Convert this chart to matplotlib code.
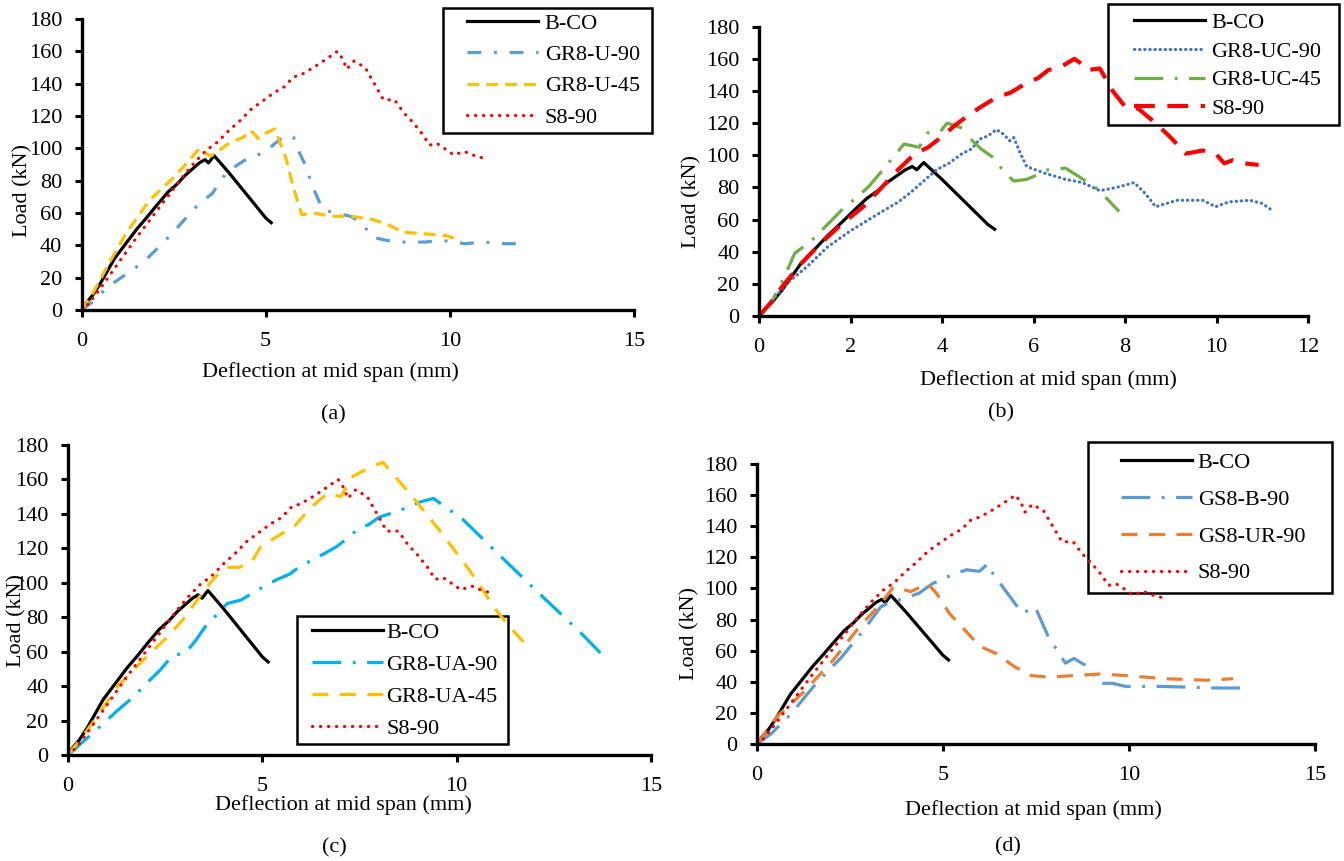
import numpy as np
import matplotlib
matplotlib.use('Agg')
import matplotlib.pyplot as plt
from matplotlib.patches import Rectangle

plt.rcParams['font.family'] = ['Liberation Serif', 'DejaVu Serif']

# ---- data (deflection mm, load kN) ----
bco_x = [0, 0.15, 0.3, 0.5, 0.7, 0.9, 1.2, 1.5, 1.8, 2.05, 2.35, 2.6, 2.8, 3.0, 3.2, 3.35, 3.45, 3.6, 4.0, 4.5, 5.0, 5.15]
bco_y = [0, 5, 9, 16, 24, 32, 41, 50, 58, 65, 73, 78, 83, 87, 91, 93, 91, 95.5, 85, 71, 57, 54]

s890_x = [0, 0.2, 0.5, 1.0, 1.5, 1.9, 2.4, 2.8, 3.1, 3.4, 3.7, 4.0, 4.3, 4.6, 4.9, 5.2, 5.5, 5.75, 6.0, 6.3, 6.5, 6.7, 6.95, 7.1, 7.2, 7.4, 7.7, 7.95, 8.2, 8.5, 8.75, 9.0, 9.25, 9.45, 9.65, 9.85, 10.1, 10.4, 10.6, 10.9]
s890_y = [0, 4, 13, 29, 45, 57, 72, 84, 92, 99, 104, 111, 117, 124, 129, 134, 138, 144, 146, 150, 153, 156, 160, 155, 149, 154, 150, 140, 130, 130, 122, 116, 109, 102, 103, 100, 96, 98, 96, 94]

# (a)
gr8u90_x = [0, 0.3, 0.7, 1.2, 1.7, 2.1, 2.45, 2.8, 3.2, 3.55, 3.9, 4.25, 4.6, 4.95, 5.25, 5.55, 5.75, 5.9, 6.05, 6.3, 6.55, 6.9, 7.3, 7.6, 7.9, 8.3, 8.75, 9.3, 9.8, 10.4, 10.9, 11.5, 12.0]
gr8u90_y = [0, 5, 14, 22, 30, 39, 47, 56, 66, 72, 84, 90, 95, 97, 103, 108, 107, 98, 91, 75, 62, 60, 58, 54, 45, 43, 42, 42, 43, 41, 42, 41, 41]

gr8u45_x = [0, 0.3, 0.7, 1.2, 1.85, 2.55, 2.9, 3.2, 3.5, 3.75, 4.0, 4.4, 4.6, 4.8, 5.05, 5.25, 5.38, 5.55, 5.75, 5.98, 6.3, 6.8, 7.3, 7.9, 8.3, 8.75, 9.4, 9.9, 10.3]
gr8u45_y = [0, 10, 27, 47, 68, 83, 92, 100, 95, 99, 103, 107, 111, 106, 110, 112, 104, 94, 76, 59, 60, 58, 58, 56, 53, 48, 47, 46, 43]

# (b)
gr8uc90_x = [0, 0.3, 0.6, 1.06, 1.5, 2.0, 2.4, 2.75, 3.05, 3.32, 3.6, 3.88, 4.15, 4.44, 4.65, 4.82, 5.0, 5.19, 5.35, 5.48, 5.57, 5.7, 5.85, 6.23, 6.7, 7.07, 7.45, 7.82, 8.2, 8.45, 8.67, 9.14, 9.7, 9.98, 10.27, 10.73, 11.0, 11.25]
gr8uc90_y = [0, 10, 20, 31, 43, 53, 60, 66, 71, 77, 84, 91, 95, 101, 104, 110, 112, 116, 113, 109, 111, 102, 93, 89, 85, 83, 78, 80, 83, 76, 68, 72, 72, 68, 71, 72, 70, 65]

gr8uc45_x = [0, 0.3, 0.55, 0.78, 1.15, 1.5, 1.81, 2.1, 2.38, 2.65, 2.94, 3.17, 3.5, 3.69, 3.97, 4.11, 4.44, np.nan, 4.63, 4.85, 5.1, 5.38, 5.57, 5.85, 6.1, 6.32, 6.7, 6.98, 7.35, 7.64, 7.87]
gr8uc45_y = [0, 10, 24, 39, 47, 57, 66, 73, 80, 89, 99, 107, 105, 114, 115, 120, 117, np.nan, 110, 104, 99, 89, 84, 85, 88, 91, 92, 87, 80, 72, 65]

s890b_x = [0, 0.25, 0.5, 0.9, 1.34, 1.8, 2.28, 2.65, 3.04, 3.41, 3.7, 3.97, 4.3, 4.63, 4.9, 5.19, 5.5, 5.85, 6.1, 6.32, 6.6, 6.89, 7.05, 7.17, 7.45, 7.73, 8.01, 8.29, 8.67, 9.0, 9.33, 9.7, 9.98, 10.17, 10.36, 10.6, 10.92]
s890b_y = [0, 8, 18, 32, 45, 57, 68, 79, 91, 101, 105, 111, 119, 126, 131, 136, 139, 145, 148, 153, 155, 160, 157, 153, 154, 140, 130, 129, 120, 111, 101, 103, 101, 95, 97, 95, 94]

# (c)
gr8ua90_x = [0, 0.4, 0.85, 1.28, 1.7, 2.04, 2.4, 2.69, 3.02, 3.3, 3.55, 3.85, 4.1, 4.45, 4.75, 5.05, 5.39, 5.7, 5.94, 6.26, 6.6, 6.91, 7.2, 7.45, 7.75, 8.0, 8.53, 9.07, 9.4, 10.15, 11.24, 12.3, 13.19, 13.84]
gr8ua90_y = [0, 8, 17, 26, 34, 42, 50, 58, 59, 67, 75, 82, 88, 90, 94, 98, 102, 105, 109, 113, 117, 121, 126, 131, 134, 138, 142, 147, 149, 137, 113, 90, 71, 56]

gr8ua45_x = [0, 0.35, 0.74, 1.28, 1.93, 2.58, 3.01, 3.45, 3.77, 4.1, 4.42, 4.75, 4.96, 5.39, 5.83, 6.26, 6.69, 7.02, 7.34, 7.78, 8.1, 8.86, 9.61, 10.37, 11.02, 11.34, 11.83]
gr8ua45_y = [0, 10, 22, 40, 55, 69, 80, 94, 103, 109, 109, 113, 121, 127, 133, 144, 152, 150, 162, 167, 170, 150, 129, 106, 84, 75, 63]

# (d)
gs8b90_x = [0, 0.4, 0.9, 1.59, 2.28, 2.86, 3.32, 3.55, 3.9, 4.36, 4.71, 5.17, 5.63, 5.98, 6.21, 6.33, 6.79, 7.13, 7.48, 7.83, 8.29, 8.52, 8.87, 9.22, 9.56, 9.91, 10.9, 12.33, 13.03]
gs8b90_y = [0, 7, 19, 39, 56, 73, 88, 91, 93, 97, 103, 108, 112, 111, 116, 110, 95, 84, 88, 69, 52, 55, 50, 39, 39, 37, 37, 36, 36]

gs8ur90_x = [0, 0.55, 1.24, 2.05, 2.74, 3.32, 3.67, 4.13, 4.59, 4.82, 5.17, 5.52, 5.98, 6.44, 6.9, 7.37, 7.83, 8.52, 9.22, 9.91, 10.94, 12.1, 12.8]
gs8ur90_y = [0, 18, 33, 54, 75, 90, 101, 98, 103, 97, 84, 75, 63, 58, 50, 44, 43, 44, 45, 44, 42, 41, 42]

yticks = list(range(0, 181, 20))
xticks_15 = [0, 5, 10, 15]
xticks_12 = list(range(0, 13, 2))

BLACK = '#000000'
RED = '#FF0000'
GOLD = '#FFC000'
LBLUE = '#5B9BD5'
DBLUE = '#4472C4'
GREEN = '#70AD47'
CYAN = '#00B0F0'
ORANGE = '#ED7D31'

DASHDOT_S = (0, (4.3, 4.0, 0.9, 4.0))
DASHDOT_L = (0, (9.0, 3.6, 0.9, 3.6))
DASHED_S = (0, (3.7, 2.2))
DASHED_L = (0, (5.0, 3.6))
DOTTED = (0, (0.1, 2.4))
FINE_DOT = (0, (0.1, 1.5))

W, H = 1344, 861
FS = 16
LW = 2.3


def px_axes(fig, left, right, bottom, top):
    return fig.add_axes([left / W, 1 - bottom / H, (right - left) / W, (bottom - top) / H])


def style(ax, xmax, xticks, xlab, ylab):
    ax.set_xlim(0, xmax)
    ax.set_ylim(0, 180)
    ax.set_xticks(xticks)
    ax.set_yticks(yticks)
    for s in ['top', 'right']:
        ax.spines[s].set_visible(False)
    for s in ['left', 'bottom']:
        ax.spines[s].set_linewidth(2.4)
    ax.tick_params(direction='out', length=5, width=2.2, labelsize=FS)
    ax.tick_params(axis='x', pad=11)
    ax.tick_params(axis='y', pad=9)
    ax.set_xlabel('Deflection at mid span (mm)', fontsize=FS)
    ax.set_ylabel('Load (kN)', fontsize=FS)
    ax.xaxis.set_label_coords(*xlab)
    ax.xaxis.label.set_va('center')
    ax.yaxis.set_label_coords(*ylab)
    ax.yaxis.label.set_va('center')


def legend(ax, box, hx, cy, ls, tpad=0.27):
    # box = (left, top, right, bottom) in pixels; hx = handle start, cy = centre of the rows
    x0, y0, x1, y1 = box
    ax.add_patch(Rectangle((x0 / W, 1 - y1 / H), (x1 - x0) / W, (y1 - y0) / H, transform=fig.transFigure,
                           facecolor='white', edgecolor='black', lw=1.8, zorder=1, clip_on=False))
    leg = ax.legend(loc='center left', bbox_to_anchor=(hx / W, 1 - cy / H), bbox_transform=fig.transFigure,
                    fontsize=FS, frameon=False, handlelength=3.2, handletextpad=tpad,
                    labelspacing=ls, borderpad=0, borderaxespad=0)
    return leg


fig = plt.figure(figsize=(W / 100, H / 100), dpi=100)

# (a)
ax = px_axes(fig, 81.5, 634, 310, 19)
ax.plot(bco_x, bco_y, color=BLACK, lw=LW, label='B-CO')
ax.plot(gr8u90_x, gr8u90_y, color=LBLUE, lw=LW, ls=DASHDOT_S, label='GR8-U-90')
ax.plot(gr8u45_x, gr8u45_y, color=GOLD, lw=LW, ls=DASHED_S, label='GR8-U-45')
ax.plot(s890_x, s890_y, color=RED, lw=LW, ls=DOTTED, dash_capstyle='round', label='S8-90')
style(ax, 15, xticks_15, (0.45, -0.213), (-0.106, 0.412))
legend(ax, (443, 8, 652, 133), 467, 70.5, 0.48, 0.3)

# (b)
ax = px_axes(fig, 759, 1308, 316, 26.7)
ax.plot(bco_x, bco_y, color=BLACK, lw=LW, label='B-CO')
ax.plot(gr8uc90_x, gr8uc90_y, color=DBLUE, lw=LW, ls=FINE_DOT, dash_capstyle='round', label='GR8-UC-90')
ax.plot(gr8uc45_x, gr8uc45_y, color=GREEN, lw=LW, ls=DASHDOT_L, label='GR8-UC-45')
ax.plot(s890b_x, s890b_y, color=RED, lw=3.0, ls=(0, (5, 3)), label='S8-90')
style(ax, 12, xticks_12, (0.528, -0.221), (-0.122, 0.395))
legend(ax, (1108, 4, 1339, 125), 1134, 65.8, 0.37)

# (c)
ax = px_axes(fig, 68, 651, 755, 445)
ax.plot(bco_x, bco_y, color=BLACK, lw=LW, label='B-CO')
ax.plot(gr8ua90_x, gr8ua90_y, color=CYAN, lw=LW, ls=DASHDOT_L, label='GR8-UA-90')
ax.plot(gr8ua45_x, gr8ua45_y, color=GOLD, lw=LW, ls=DASHED_L, label='GR8-UA-45')
ax.plot(s890_x, s890_y, color=RED, lw=LW, ls=DOTTED, dash_capstyle='round', label='S8-90')
style(ax, 15, xticks_15, (0.472, -0.161), (-0.0875, 0.435))
legend(ax, (296.7, 615.7, 508, 744), 311.7, 680.8, 0.51, 0.17)

# (d)
ax = px_axes(fig, 757, 1315, 744, 464)
ax.plot(bco_x, bco_y, color=BLACK, lw=LW, label='B-CO')
ax.plot(gs8b90_x, gs8b90_y, color=LBLUE, lw=LW, ls=DASHDOT_L, label='GS8-B-90')
ax.plot(gs8ur90_x, gs8ur90_y, color=ORANGE, lw=LW, ls=DASHED_L, label='GS8-UR-90')
ax.plot(s890_x, s890_y, color=RED, lw=LW, ls=DOTTED, dash_capstyle='round', label='S8-90')
style(ax, 15, xticks_15, (0.495, -0.236), (-0.12, 0.393))
legend(ax, (1088, 441.7, 1332, 592.7), 1120.7, 517.9, 0.73)

for lab, (x, y) in zip(['(a)', '(b)', '(c)', '(d)'], [(333, 415), (1001, 413), (334, 848), (1008, 847)]):
    fig.text(x / W, 1 - y / H, lab, ha='center', va='center', fontsize=FS)

fig.savefig('out.png', dpi=100)
